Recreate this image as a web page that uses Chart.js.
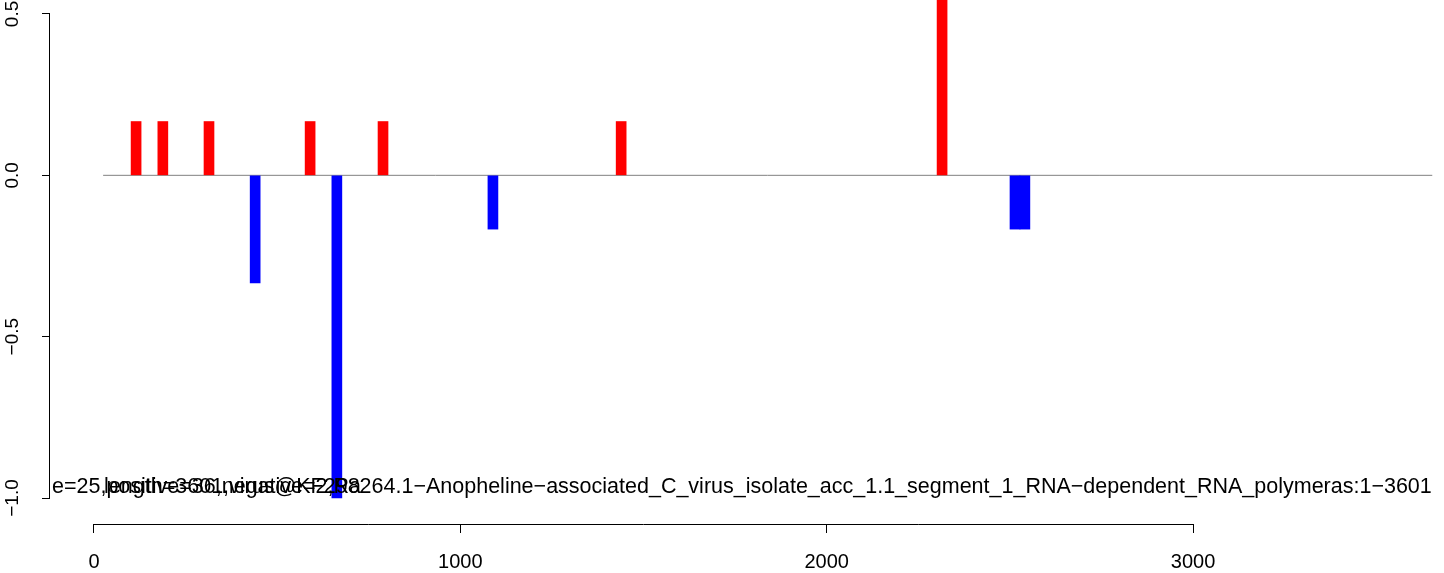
<!DOCTYPE html>
<html>
<head>
<meta charset="utf-8">
<script src="https://cdn.jsdelivr.net/npm/chart.js@4/dist/chart.umd.min.js"></script>
<style>
  body { margin: 0; background: #fff; }
  canvas { display: block; }
</style>
</head>
<body>
<canvas id="chart" width="1444" height="573"></canvas>
<script>
// dados
const posPositions = [115, 188, 314, 590, 789, 1439, 2315];
const posValues = [0.1667, 0.1667, 0.1667, 0.1667, 0.1667, 0.1667, 0.6667];
const negPositions = [440, 663, 1089, 2514, 2541];
const negValues = [-0.3333, -1, -0.1667, -0.1667, -0.1667];
const baseLine = [25, 3653];
const xTicks = [0, 1000, 2000, 3000];
const yTicks = [0.5, 0, -0.5, -1];
const yTickLabels = ['0.5', '0.0', '\u22120.5', '\u22121.0'];
const infoText = 'e=25,positive=36,negative=2,Ra';
const titleText = 'length=3601,virus@KF298264.1\u2212Anopheline\u2212associated_C_virus_isolate_acc_1.1_segment_1_RNA\u2212dependent_RNA_polymeras:1\u22123601';

const FONT = '"Liberation Sans", Arial, sans-serif';

// linhas dos eixos, rótulos do eixo y e textos de baixo
const axisPlugin = {
    id: 'axisPlugin',
    afterDraw(chart) {
        const ctx = chart.ctx;
        const x = chart.scales.x;
        const y = chart.scales.y;
        const area = chart.chartArea;
        ctx.save();
        ctx.strokeStyle = '#000';
        ctx.lineWidth = 1;
        // eixo x
        const xa = Math.round(area.bottom) + 0.5;
        ctx.beginPath();
        ctx.moveTo(x.getPixelForValue(xTicks[0]), xa);
        ctx.lineTo(x.getPixelForValue(xTicks[xTicks.length - 1]), xa);
        ctx.stroke();
        // eixo y
        const ya = Math.round(area.left) - 0.5;
        ctx.beginPath();
        ctx.moveTo(ya, y.getPixelForValue(yTicks[0]));
        ctx.lineTo(ya, y.getPixelForValue(yTicks[yTicks.length - 1]));
        ctx.stroke();
        // rótulos do eixo y (girados)
        ctx.fillStyle = '#000';
        ctx.font = '19px ' + FONT;
        ctx.textAlign = 'center';
        ctx.textBaseline = 'middle';
        yTicks.forEach((v, i) => {
            ctx.save();
            ctx.translate(13, y.getPixelForValue(v));
            ctx.rotate(-Math.PI / 2);
            ctx.fillText(yTickLabels[i], 0, 0);
            ctx.restore();
        });
        // textos sobrepostos
        ctx.beginPath();
        ctx.rect(area.left, area.top, area.right - area.left, area.bottom - area.top);
        ctx.clip();
        ctx.font = '21.5px ' + FONT;
        ctx.textAlign = 'left';
        ctx.textBaseline = 'alphabetic';
        const base = y.getPixelForValue(-1) - 5;
        ctx.fillText(infoText, area.left + 2, base);
        ctx.fillText(titleText, x.getPixelForValue(baseLine[0]) + 1, base);
        ctx.restore();
    }
};

document.addEventListener('DOMContentLoaded', function() {
    const ctx = document.getElementById('chart').getContext('2d');

    new Chart(ctx, {
        type: 'bar',
        data: {
            datasets: [
                {
                    type: 'line',
                    data: baseLine.map(v => ({ x: v, y: 0 })),
                    borderColor: '#808080',
                    borderWidth: 1,
                    pointRadius: 0,
                    order: 3
                },
                {
                    data: posPositions.map((v, i) => ({ x: v, y: posValues[i] })),
                    backgroundColor: '#ff0000',
                    barThickness: 10,
                    grouped: false,
                    order: 1
                },
                {
                    data: negPositions.map((v, i) => ({ x: v, y: negValues[i] })),
                    backgroundColor: '#0000ff',
                    barThickness: 10,
                    grouped: false,
                    order: 2
                }
            ]
        },
        options: {
            responsive: false,
            animation: false,
            layout: { padding: 0 },
            plugins: {
                legend: { display: false },
                tooltip: { enabled: false }
            },
            scales: {
                x: {
                    type: 'linear',
                    min: -120,
                    max: 3685,
                    offset: false,
                    afterBuildTicks: scale => { scale.ticks = xTicks.map(v => ({ value: v })); },
                    afterFit: scale => { scale.height = 49; },
                    border: { display: false },
                    grid: {
                        offset: false,
                        drawOnChartArea: false,
                        tickLength: 9,
                        color: '#000',
                        lineWidth: 1
                    },
                    ticks: {
                        color: '#000',
                        font: { family: FONT, size: 20 },
                        padding: 17,
                        maxRotation: 0,
                        autoSkip: false,
                        callback: v => String(v)
                    }
                },
                y: {
                    min: -1.0805,
                    max: 0.5433,
                    afterBuildTicks: scale => { scale.ticks = yTicks.map(v => ({ value: v })); },
                    afterFit: scale => { scale.width = 50; },
                    border: { display: false },
                    grid: {
                        drawOnChartArea: false,
                        tickLength: 8,
                        color: '#000',
                        lineWidth: 1
                    },
                    ticks: { display: false }
                }
            }
        },
        plugins: [axisPlugin]
    });
});
</script>
</body>
</html>
